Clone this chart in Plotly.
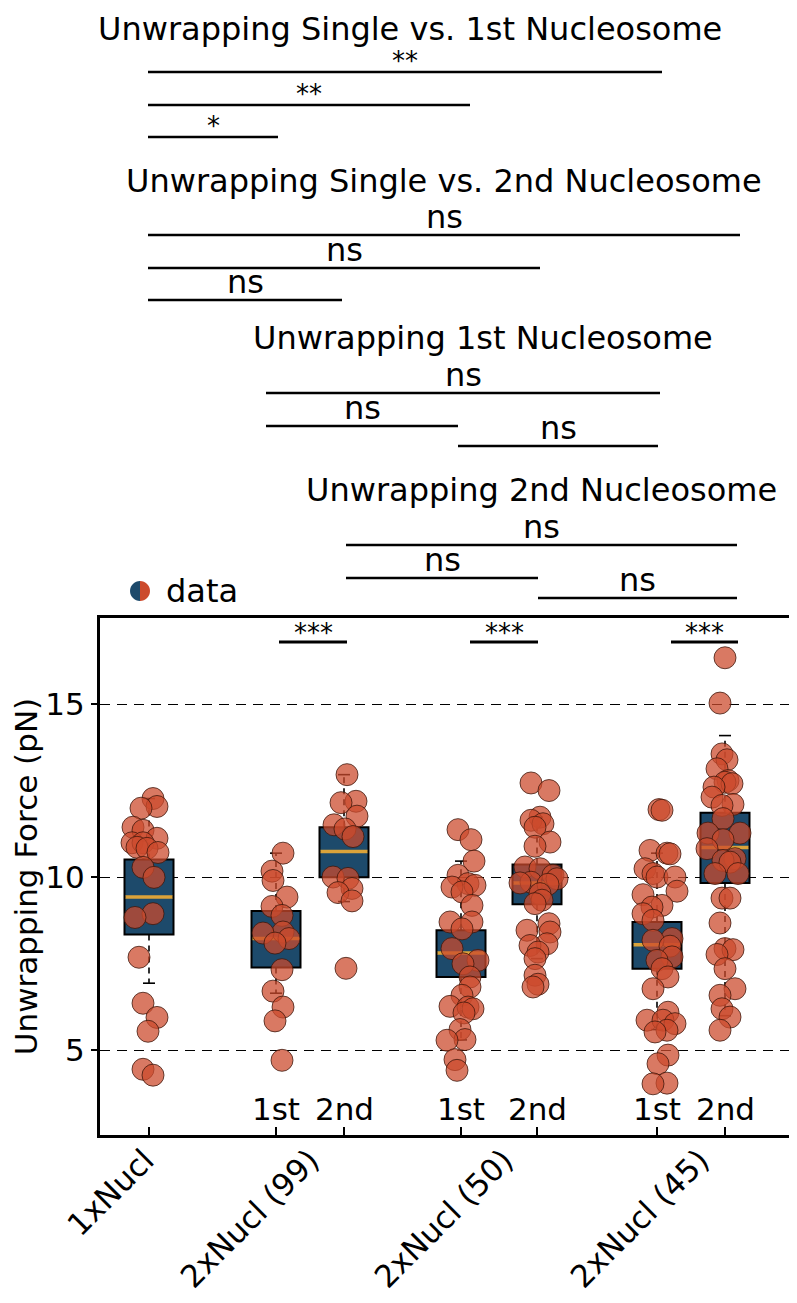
import plotly.graph_objects as go

# ---------------- data ----------------
group_labels = ["1xNucl", "2xNucl (99)", "2xNucl (50)", "2xNucl (45)"]
group_label_pos = [0.45, 2.10, 4.04, 6.00]

box_pos = [0.49, 1.76, 2.44, 3.61, 4.37, 5.57, 6.25]
sub_labels = ["", "1st", "2nd", "1st", "2nd", "1st", "2nd"]

q1 = [8.35, 7.39, 10.00, 7.12, 9.22, 7.36, 9.84]
median = [9.43, 8.23, 10.75, 7.81, 9.84, 8.05, 10.86]
q3 = [10.52, 9.03, 11.45, 8.47, 10.37, 8.71, 11.87]
whisk_lo = [6.94, 6.65, 9.30, 5.30, 7.65, 5.60, 6.00]
whisk_hi = [12.28, 10.70, 12.97, 10.47, 11.74, 10.70, 14.10]

vals_1x = [12.28, 12.05, 12.0, 11.45, 11.36, 11.13, 11.0, 11.0, 10.87, 10.84, 10.72, 10.29, 10.0,
           8.95, 8.84, 7.69, 6.36, 5.95, 5.55, 4.45, 4.28]
jit_1x = [0.04, 0.08, -0.08, -0.16, -0.06, 0.08, -0.17, -0.06, -0.12, -0.02, 0.09, -0.06, 0.05,
          0.04, -0.14, -0.10, -0.06, 0.08, -0.01, -0.06, 0.04]

vals_99a = [10.70, 10.18, 9.91, 9.43, 9.16, 8.90, 8.42, 8.39, 8.23, 8.10, 7.33, 6.71, 6.25, 5.85, 4.71]
jit_99a = [0.07, -0.04, -0.03, 0.11, -0.04, 0.06, 0.07, -0.13, 0.13, -0.01, 0.06, -0.03, 0.07, -0.01, 0.06]

vals_99b = [12.97, 12.20, 12.16, 11.77, 11.52, 11.40, 11.18, 10.01, 9.97, 9.68, 9.56, 9.32, 7.37]
jit_99b = [0.03, 0.12, -0.03, 0.13, -0.10, 0.01, 0.09, -0.11, 0.04, 0.08, -0.06, 0.08, 0.02]

vals_50a = [11.38, 11.09, 10.47, 10.06, 9.82, 9.77, 9.72, 9.58, 9.19, 8.71, 8.71, 8.51, 7.94, 7.60,
            7.50, 7.12, 6.83, 6.59, 6.27, 6.25, 6.20, 6.08, 5.60, 5.31, 5.29, 4.73, 4.42]
jit_50a = [-0.03, 0.10, 0.13, -0.03, 0.07, 0.14, -0.09, 0.01, 0.11, -0.11, 0.11, 0.01, -0.09, 0.17,
           0.02, 0.09, 0.09, 0.01, -0.11, 0.07, 0.12, 0.03, -0.01, 0.04, -0.14, -0.06, -0.04]

vals_50b = [12.73, 12.51, 11.74, 11.65, 11.55, 11.45, 11.02, 10.90, 10.30, 10.25, 10.06, 9.96, 9.86,
            9.84, 9.80, 9.53, 9.34, 9.24, 8.66, 8.47, 8.42, 8.08, 8.03, 7.84, 7.65, 7.17, 6.91, 6.83]
jit_50b = [-0.06, 0.12, 0.03, -0.06, 0.06, -0.02, 0.13, -0.02, -0.12, 0.03, 0.16, 0.20, -0.06,
           -0.17, 0.11, 0.03, 0.05, -0.02, 0.12, -0.10, 0.13, 0.10, -0.07, 0.01, -0.02, -0.02, 0.01, -0.04]

vals_45a = [11.96, 11.94, 10.78, 10.70, 10.68, 10.25, 10.11, 10.01, 10.01, 9.60, 9.50, 9.19, 9.14,
            8.95, 8.76, 8.23, 8.18, 8.01, 7.70, 7.60, 7.36, 7.12, 6.78, 6.10, 5.87, 5.87, 5.77,
            5.58, 5.53, 4.86, 4.61, 4.05, 4.03]
jit_45a = [0.02, 0.05, -0.07, 0.10, 0.13, -0.12, -0.04, 0.00, 0.18, 0.20, -0.14, 0.05, -0.05,
           -0.14, -0.04, 0.15, -0.04, 0.13, 0.15, 0.00, 0.05, 0.11, -0.04, 0.11, -0.10, 0.06, 0.18,
           0.10, -0.02, 0.11, 0.01, 0.10, -0.04]

vals_45b = [16.35, 15.04, 13.57, 13.40, 13.14, 12.80, 12.75, 12.71, 12.61, 12.32, 12.11, 12.08,
            11.70, 11.28, 11.28, 11.09, 10.83, 10.54, 10.49, 10.44, 10.11, 10.11, 9.40, 9.40,
            8.68, 7.94, 7.91, 7.77, 7.36, 6.78, 6.59, 6.20, 5.96, 5.58]
jit_45b = [0.00, -0.05, -0.03, 0.02, -0.08, 0.03, 0.00, 0.07, -0.11, -0.13, 0.08, -0.03,
           -0.02, -0.17, 0.15, -0.02, -0.18, 0.10, -0.02, 0.05, -0.10, 0.13, -0.03, 0.05,
           -0.05, 0.00, 0.08, -0.08, 0.00, 0.10, -0.05, -0.03, 0.05, -0.05]

point_vals = [vals_1x, vals_99a, vals_99b, vals_50a, vals_50b, vals_45a, vals_45b]
point_jit = [jit_1x, jit_99a, jit_99b, jit_50a, jit_50b, jit_45a, jit_45b]

# significance brackets above the plot
sig_titles = ["Unwrapping Single vs. 1st Nucleosome", "Unwrapping Single vs. 2nd Nucleosome",
              "Unwrapping 1st Nucleosome", "Unwrapping 2nd Nucleosome"]
sig_x0 = [[0.48, 0.48, 0.48], [0.48, 0.48, 0.48], [1.66, 1.66, 3.58], [2.46, 2.46, 4.38]]
sig_x1 = [[5.62, 3.70, 1.78], [6.40, 4.40, 2.42], [5.60, 3.58, 5.58], [6.37, 4.38, 6.37]]
sig_txt = [["**", "**", "*"], ["ns", "ns", "ns"], ["ns", "ns", "ns"], ["ns", "ns", "ns"]]
inner_x0 = [1.79, 3.70, 5.71]
inner_x1 = [2.47, 4.38, 6.38]
inner_txt = ["***", "***", "***"]

# ---------------- layout geometry ----------------
OFF = 8  # page body margin of the html page
PAGE_W, PAGE_H = 797, 1303
W, H = PAGE_W - OFF, PAGE_H - OFF
PL, PR, PT, PB = 100, 793, 618, 1135       # plot area in page pixels
ML, MR, MT, MB = PL - OFF, PAGE_W - PR, PT - OFF, PAGE_H - PB
PW, PH = PR - PL, PB - PT
XR = [0.0, 6.93]
YR = [2.55, 17.5]

def pxx(px):
    return (px - PL) / PW

def pyy(py):
    return (PB - py) / PH

FONT = "DejaVu Sans"
FS = 31
FT = 32
BLUE = "#1d4a6b"
RED = "#cc4a2c"
GOLD = "#dba33a"

fig = go.Figure()

fig.add_trace(go.Box(
    x=box_pos, q1=q1, median=median, q3=q3, lowerfence=q1, upperfence=q3,
    width=0.49, fillcolor=BLUE, line=dict(color="black", width=2),
    whiskerwidth=0, showlegend=False, hoverinfo="skip", boxpoints=False,
))

for i, p in enumerate(box_pos):
    for a, b in ((q1[i], whisk_lo[i]), (q3[i], whisk_hi[i])):
        fig.add_trace(go.Scatter(x=[p, p], y=[a, b], mode="lines",
                                 line=dict(color="black", width=1.6, dash="6px,5px"),
                                 showlegend=False, hoverinfo="skip"))
    fig.add_trace(go.Scatter(x=[p - 0.06, p + 0.06, None, p - 0.06, p + 0.06],
                             y=[whisk_lo[i], whisk_lo[i], None, whisk_hi[i], whisk_hi[i]],
                             mode="lines", line=dict(color="black", width=1.6),
                             showlegend=False, hoverinfo="skip"))
    fig.add_trace(go.Scatter(x=[p - 0.235, p + 0.235], y=[median[i], median[i]], mode="lines",
                             line=dict(color=GOLD, width=3.5), showlegend=False, hoverinfo="skip"))

for p, vals, jit in zip(box_pos, point_vals, point_jit):
    fig.add_trace(go.Scatter(
        x=[p + j for j in jit], y=vals, mode="markers",
        marker=dict(size=22, color="rgba(204,74,44,0.74)",
                    line=dict(color="rgba(55,20,10,0.75)", width=1)),
        showlegend=False, hoverinfo="skip"))

fig.add_trace(go.Scatter(x=[group_label_pos[0]], y=[None], xaxis="x2", mode="markers",
                         showlegend=False, hoverinfo="skip"))

shapes = []
annotations = []

title_px = [(410, 8), (444, 181), (483, 338), (541, 490)]
line_py = [[72, 105, 137], [235, 268, 300], [393, 426, 446], [545, 578, 598]]
for k in range(4):
    annotations.append(dict(text=sig_titles[k], xref="paper", yref="paper",
                            x=pxx(title_px[k][0]), y=pyy(title_px[k][1]),
                            xanchor="center", yanchor="top" if k == 0 else "middle",
                            showarrow=False, font=dict(family=FONT, size=FT, color="black")))
    for j in range(3):
        y = pyy(line_py[k][j])
        shapes.append(dict(type="line", xref="x", yref="paper", x0=sig_x0[k][j], x1=sig_x1[k][j],
                           y0=y, y1=y, line=dict(color="black", width=2.5)))
        star = "*" in sig_txt[k][j]
        annotations.append(dict(text=sig_txt[k][j], xref="x", yref="paper",
                                x=(sig_x0[k][j] + sig_x1[k][j]) / 2,
                                y=pyy(line_py[k][j] + (6 if star else 3)),
                                xanchor="center", yanchor="bottom", showarrow=False,
                                font=dict(family=FONT, size=26 if star else FT, color="black")))

for a, b, t in zip(inner_x0, inner_x1, inner_txt):
    y = pyy(642)
    shapes.append(dict(type="line", xref="x", yref="paper", x0=a, x1=b, y0=y, y1=y,
                       line=dict(color="black", width=3)))
    annotations.append(dict(text=t, xref="x", yref="paper", x=(a + b) / 2, y=pyy(642 + 8),
                            xanchor="center", yanchor="bottom", showarrow=False,
                            font=dict(family=FONT, size=26, color="black")))

for p, t in zip(box_pos, sub_labels):
    if t:
        annotations.append(dict(text=t, xref="x", yref="y", x=p, y=3.3, xanchor="center",
                                yanchor="middle", showarrow=False,
                                font=dict(family=FONT, size=FS, color="black")))

k = 0.5523 * 10
left = f"M 0,10 C {-k},10 -10,{k} -10,0 C -10,{-k} {-k},-10 0,-10 Z"
right = f"M 0,10 C {k},10 10,{k} 10,0 C 10,{-k} {k},-10 0,-10 Z"
for path, col in ((left, BLUE), (right, RED)):
    shapes.append(dict(type="path", xref="paper", yref="paper", xsizemode="pixel",
                       ysizemode="pixel", xanchor=pxx(140), yanchor=pyy(591), path=path,
                       fillcolor=col, line=dict(width=0)))
annotations.append(dict(text="data", xref="paper", yref="paper", x=pxx(164), y=pyy(591),
                        xanchor="left", yanchor="middle", showarrow=False,
                        font=dict(family=FONT, size=FT, color="black")))

fig.update_layout(
    width=W, height=H, margin=dict(l=ML, r=MR, t=MT, b=MB, autoexpand=False),
    plot_bgcolor="white", paper_bgcolor="white",
    font=dict(family=FONT, color="black"),
    boxmode="overlay",
    shapes=shapes, annotations=annotations,
    xaxis=dict(range=XR, tickvals=box_pos, ticktext=[""] * len(box_pos), ticks="inside",
               ticklen=8, tickwidth=1.5, tickcolor="black", showgrid=False, zeroline=False,
               showline=True, linecolor="black", linewidth=3, mirror=True),
    xaxis2=dict(range=XR, overlaying="x", side="bottom", anchor="y", tickvals=group_label_pos,
                ticktext=group_labels, tickangle=-45, ticks="", showgrid=False, zeroline=False,
                showline=False, tickfont=dict(family=FONT, size=FS, color="black")),
    yaxis=dict(range=YR, tickvals=[5, 10, 15], ticktext=["5", "10", "15"], ticks="outside",
               ticklen=6, tickwidth=1.5, tickcolor="black", showgrid=True, gridcolor="black",
               gridwidth=1.2, griddash="10px,7px", zeroline=False, showline=True,
               linecolor="black", linewidth=3, mirror=True,
               tickfont=dict(family=FONT, size=FS, color="black"),
               title=dict(text="Unwrapping Force (pN)", standoff=6,
                          font=dict(family=FONT, size=FS, color="black"))),
)

fig.write_html("out.html")
